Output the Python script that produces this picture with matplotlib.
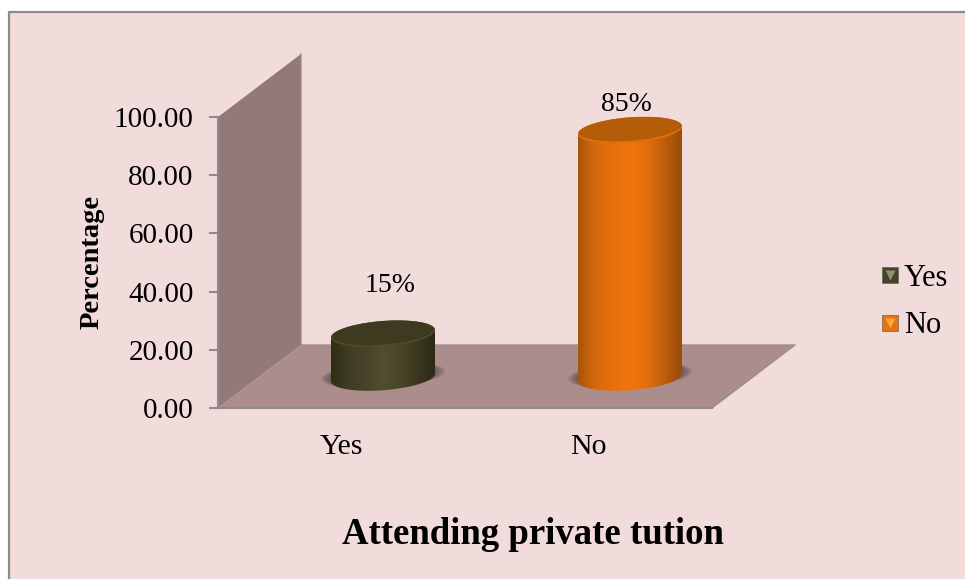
"""
Bar chart of private tuition attendance, drawn as 3-D style cylinders.
"""
import matplotlib
matplotlib.use("Agg")
import matplotlib.pyplot as plt
import numpy as np
from matplotlib.colors import LinearSegmentedColormap
from matplotlib.legend_handler import HandlerTuple
from matplotlib.lines import Line2D
from matplotlib.patches import Polygon, Rectangle

categories = ["Yes", "No"]
values = [15, 85]
y_ticks = [0, 20, 40, 60, 80, 100]

BG = "#f2dcdb"
EDGE = "#8c8c8c"
WALL = "#937a7a"
FLOOR = "#ab8d8b"

# body gradient stops, top cap, cap rim, legend highlight per series
BODY_STOPS = {
    "Yes": ["#2f2d18", "#3f3c21", "#46432a", "#514d2d", "#4a4629", "#3a3820", "#2c2a15"],
    "No": ["#a8540a", "#d6690b", "#e66f0c", "#f0760e", "#e46e0c", "#bd5e0a", "#9a4c0a"],
}
CAP = {"Yes": "#3d3a20", "No": "#b55c08"}
RIM = {"Yes": "#4e4a2a", "No": "#e0700e"}
LEGEND_FACE = {"Yes": "#46432a", "No": "#e8720f"}
LEGEND_TIP = {"Yes": "#8f8f72", "No": "#ffa642"}

# floor/wall depth and cylinder shape, all in data units
DEPTH_X = 0.336
DEPTH_Y = 21.65
HALF_W = 0.2105
CAP_B = 4.4
CAP_SHEAR = 1.3
BASE_Y = 10.5
LABEL_OFFSET = {"Yes": (0.028, 16.7), "No": (-0.016, 8.7)}

plt.rcParams["font.family"] = ["Liberation Serif", "DejaVu Serif"]

W, H = 965, 579
fig = plt.figure(figsize=(W / 100, H / 100), dpi=100, facecolor="white")

# chart area panel, its frame only runs along the top and left
fig.patches.append(Rectangle((8 / W, 0), 1, 1 - 11 / H, transform=fig.transFigure,
                             fc=BG, ec="none", zorder=-5))
fig.add_artist(Line2D([8.5 / W, 8.5 / W, 1], [0, 1 - 11.5 / H, 1 - 11.5 / H],
                      color=EDGE, lw=1.6, zorder=-4))

ax = fig.add_axes([218 / W, (H - 408) / H, 494 / W, 291 / H])
ax.set_xlim(0, 2)
ax.set_ylim(0, 100)
ax.patch.set_alpha(0)
for side in ["top", "right"]:
    ax.spines[side].set_visible(False)
for side in ["left", "bottom"]:
    ax.spines[side].set_color(EDGE)
    ax.spines[side].set_linewidth(1.5)
    ax.spines[side].set_zorder(3)

# back wall and floor
ax.add_patch(Polygon([(0, 0), (DEPTH_X, DEPTH_Y), (DEPTH_X, 100 + DEPTH_Y), (0, 100)],
                     fc=WALL, ec="none", clip_on=False, zorder=1))
ax.add_patch(Polygon([(0, 0), (2, 0), (2 + DEPTH_X, DEPTH_Y), (DEPTH_X, DEPTH_Y)],
                     fc=FLOOR, ec="none", clip_on=False, zorder=1))
ax.plot([2, 2 + DEPTH_X, DEPTH_X, DEPTH_X], [0, DEPTH_Y, DEPTH_Y, 100 + DEPTH_Y],
        color="#998f8e", lw=1, clip_on=False, zorder=1.5)


def ring(cx, cy, xscale=1.0, yscale=1.0, n=120):
    t = np.linspace(0, 2 * np.pi, n)
    x = cx + xscale * HALF_W * np.cos(t)
    y = cy + yscale * (CAP_B * np.sin(t) + CAP_SHEAR * np.cos(t))
    return np.column_stack([x, y])


def draw_cylinder(pos, value, name):
    cx = pos + DEPTH_X / 2
    top = BASE_Y + value

    # soft contact shadow on the floor, sits mostly behind the base
    for scale in np.linspace(1.2, 1.0, 8):
        ax.add_patch(Polygon(ring(cx, BASE_Y + 0.8, scale, 1.0), fc="#3c3036", ec="none",
                             alpha=0.09, clip_on=False, zorder=2))

    # body outline: lower half of the base ellipse joined to the top ellipse
    t = np.linspace(np.pi, 2 * np.pi, 80)
    low_x = cx + HALF_W * np.cos(t)
    low_y = BASE_Y + CAP_B * np.sin(t) + CAP_SHEAR * np.cos(t)
    up_x = low_x[::-1]
    up_y = top + CAP_SHEAR * np.cos(t[::-1])
    body = Polygon(np.column_stack([np.r_[low_x, up_x], np.r_[low_y, up_y]]),
                   fc="none", ec="none", transform=ax.transData)
    ax.add_patch(body)

    cmap = LinearSegmentedColormap.from_list(name, BODY_STOPS[name])
    shade = np.linspace(0, 1, 256).reshape(1, -1)
    img = ax.imshow(shade, cmap=cmap, aspect="auto", zorder=3,
                    extent=(cx - HALF_W, cx + HALF_W, BASE_Y - 8, top + 8))
    img.set_clip_path(body)

    # top cap: the rim only shows as a crescent along the front edge
    rim = Polygon(ring(cx, top), fc=RIM[name], ec="none", clip_on=False, zorder=4)
    ax.add_patch(rim)
    cap = Polygon(ring(cx, top + 0.7), fc=CAP[name], ec="none", zorder=4.1)
    ax.add_patch(cap)
    cap.set_clip_path(rim)


for i, (name, val) in enumerate(zip(categories, values)):
    pos = i + 0.5
    draw_cylinder(pos, val, name)
    dx, dy = LABEL_OFFSET[name]
    ax.text(pos + DEPTH_X / 2 + dx, BASE_Y + val + dy, f"{val}%", fontsize=20,
            ha="center", va="center", color="black", zorder=5)

ax.set_xlim(0, 2)
ax.set_ylim(0, 100)
ax.set_xticks([i + 0.5 for i in range(len(categories))], categories)
ax.set_yticks(y_ticks, [f"{v:.2f}" for v in y_ticks])
ax.tick_params(axis="y", length=6.5, width=1.5, color=EDGE, labelsize=21, pad=11)
ax.tick_params(axis="x", length=0, labelsize=21.5, pad=18.5)

ax.set_ylabel("Percentage", fontsize=20.5, fontweight="bold")
ax.yaxis.set_label_coords(-113 / 494, 146 / 291)
ax.set_xlabel("Attending private tution", fontsize=26.5, fontweight="bold")
ax.xaxis.set_label_coords(315 / 494, -127 / 291)
ax.xaxis.label.set_va("center")

handles = []
for name in categories:
    square = Line2D([], [], ls="none", marker="s", ms=11.5, mfc=LEGEND_FACE[name],
                    mec="#6b6650", mew=0.5)
    tip = Line2D([], [], ls="none", marker="v", ms=7.5, mfc=LEGEND_TIP[name], mec="none")
    handles.append((square, tip))
fig.legend(handles, categories, handler_map={tuple: HandlerTuple(ndivide=1)},
           loc="center left", bbox_to_anchor=(875 / W, 1 - 302 / H), frameon=False,
           fontsize=22, labelspacing=0.62, handlelength=1.0, handletextpad=-0.05,
           borderpad=0, borderaxespad=0)

fig.savefig("out.png", dpi=100, facecolor=fig.get_facecolor())
